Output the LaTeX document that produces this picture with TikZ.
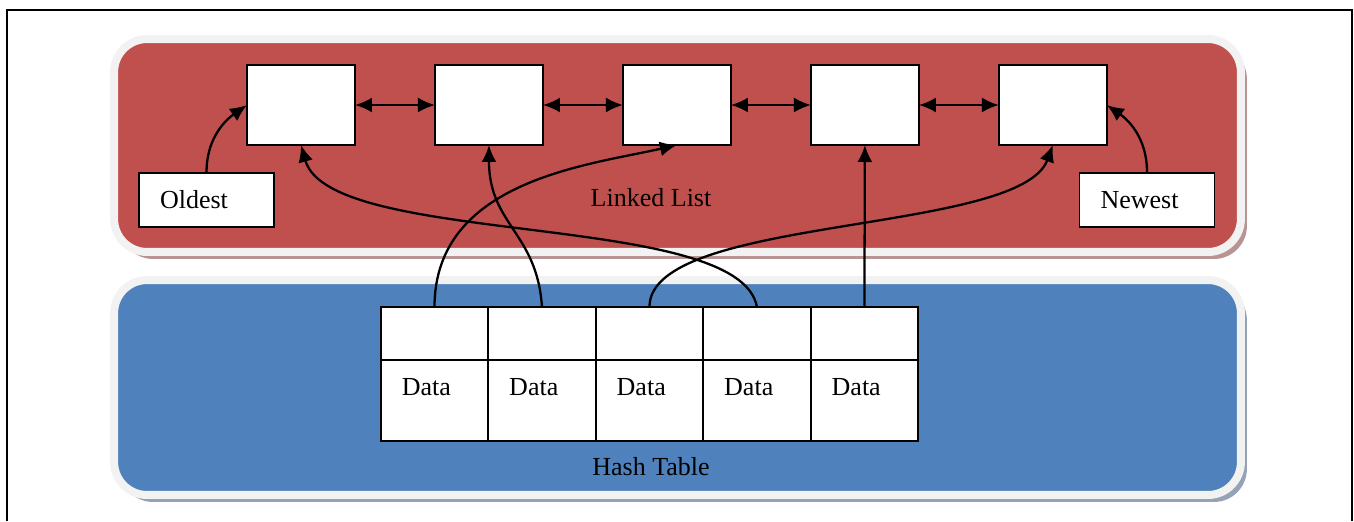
\documentclass[tikz,border=0pt]{standalone}
\usepackage{fontspec}
\setmainfont{Liberation Serif}
\usepackage{tikz}
\usetikzlibrary{arrows.meta, positioning, shadows}
\usepackage{xcolor}

\definecolor{listred}{RGB}{192,80,77}
\definecolor{tableblue}{RGB}{79,129,189}
\definecolor{rimgray}{RGB}{242,242,242}
\definecolor{redshade}{RGB}{184,148,148}
\definecolor{blueshade}{RGB}{148,163,184}

\begin{document}
\begin{tikzpicture}[
    x=0.02cm, y=-0.02cm,
    font=\fontsize{14.8}{17}\selectfont,
    panel/.style={rectangle, rounded corners=0.66cm, draw=rimgray, line width=0.16cm, minimum width=22.54cm},
    llbox/.style={rectangle, draw, fill=white, line width=1pt, minimum width=2.16cm, minimum height=1.6cm, outer sep=0pt},
    tag/.style={rectangle, draw, fill=white, line width=1pt, minimum width=2.7cm, minimum height=1.08cm, inner xsep=0.42cm, text width=1.86cm, align=left},
    htcell/.style={rectangle, draw, fill=white, line width=1pt, minimum width=2.15cm, minimum height=1.06cm, outer sep=0pt},
    datacell/.style={rectangle, draw, fill=white, line width=1pt, minimum width=2.15cm, minimum height=1.62cm, outer sep=0pt, inner xsep=0.42cm, text width=1.31cm, align=left, text height=0.3cm, text depth=0.48cm},
    arrow/.style={-{Latex[length=0.34cm, width=0.3cm]}, line width=1.3pt},
    darrow/.style={{Latex[length=0.34cm, width=0.3cm]}-{Latex[length=0.34cm, width=0.3cm]}, line width=1.3pt},
    node distance=1.6cm
]
\useasboundingbox (0,0) rectangle (1354,521);

% frame
\draw[line width=1.1pt] (7,521) -- (7,10) -- (1352,10) -- (1352,521);

% panels
\node[panel, fill=listred, minimum height=4.26cm,
      drop shadow={shadow xshift=0.12cm, shadow yshift=-0.14cm, fill=redshade, opacity=1}] (listpanel) at (677.5,145.5) {};
\node[panel, fill=tableblue, minimum height=4.3cm,
      drop shadow={shadow xshift=0.12cm, shadow yshift=-0.14cm, fill=blueshade, opacity=1}] (tablepanel) at (677.5,387.5) {};
\node (listlabel) at (651,198) {Linked List};
\node (tablelabel) at (651,467) {Hash Table};

% linked list
\node[llbox] (ll1) at (301,105) {};
\node[llbox, right=of ll1] (ll2) {};
\node[llbox, right=of ll2] (ll3) {};
\node[llbox, right=of ll3] (ll4) {};
\node[llbox, right=of ll4] (ll5) {};
\node[tag] (oldest) at (206.5,200) {Oldest};
\node[tag] (newest) at (1147,200) {Newest};

% hash table
\node[htcell] (ht1) at (434.5,333.5) {};
\node[htcell, right=0pt of ht1] (ht2) {};
\node[htcell, right=0pt of ht2] (ht3) {};
\node[htcell, right=0pt of ht3] (ht4) {};
\node[htcell, right=0pt of ht4] (ht5) {};
\node[datacell, below=0pt of ht1] (d1) {Data};
\node[datacell, below=0pt of ht2] (d2) {Data};
\node[datacell, below=0pt of ht3] (d3) {Data};
\node[datacell, below=0pt of ht4] (d4) {Data};
\node[datacell, below=0pt of ht5] (d5) {Data};

% list links
\draw[darrow] (ll1.east) -- (ll2.west);
\draw[darrow] (ll2.east) -- (ll3.west);
\draw[darrow] (ll3.east) -- (ll4.west);
\draw[darrow] (ll4.east) -- (ll5.west);
\draw[arrow] (oldest.north) to[out=90, in=215] (ll1.west);
\draw[arrow] (newest.north) to[out=90, in=-35] (ll5.east);

% table to list
\draw[arrow] (ht1.north) .. controls +(0,-127) and +(-87,20) .. (ll3.south);
\draw[arrow] (ht2.north) .. controls +(-5,-75) and +(0,80) .. (ll2.south);
\draw[arrow] (ht3.north) .. controls +(0,-92) and +(-33,90) .. (ll5.south);
\draw[arrow] (ht4.north) .. controls +(-17,-97) and +(29,103) .. (ll1.south);
\draw[arrow] (ht5.north) -- (ll4.south);

\end{tikzpicture}
\end{document}
